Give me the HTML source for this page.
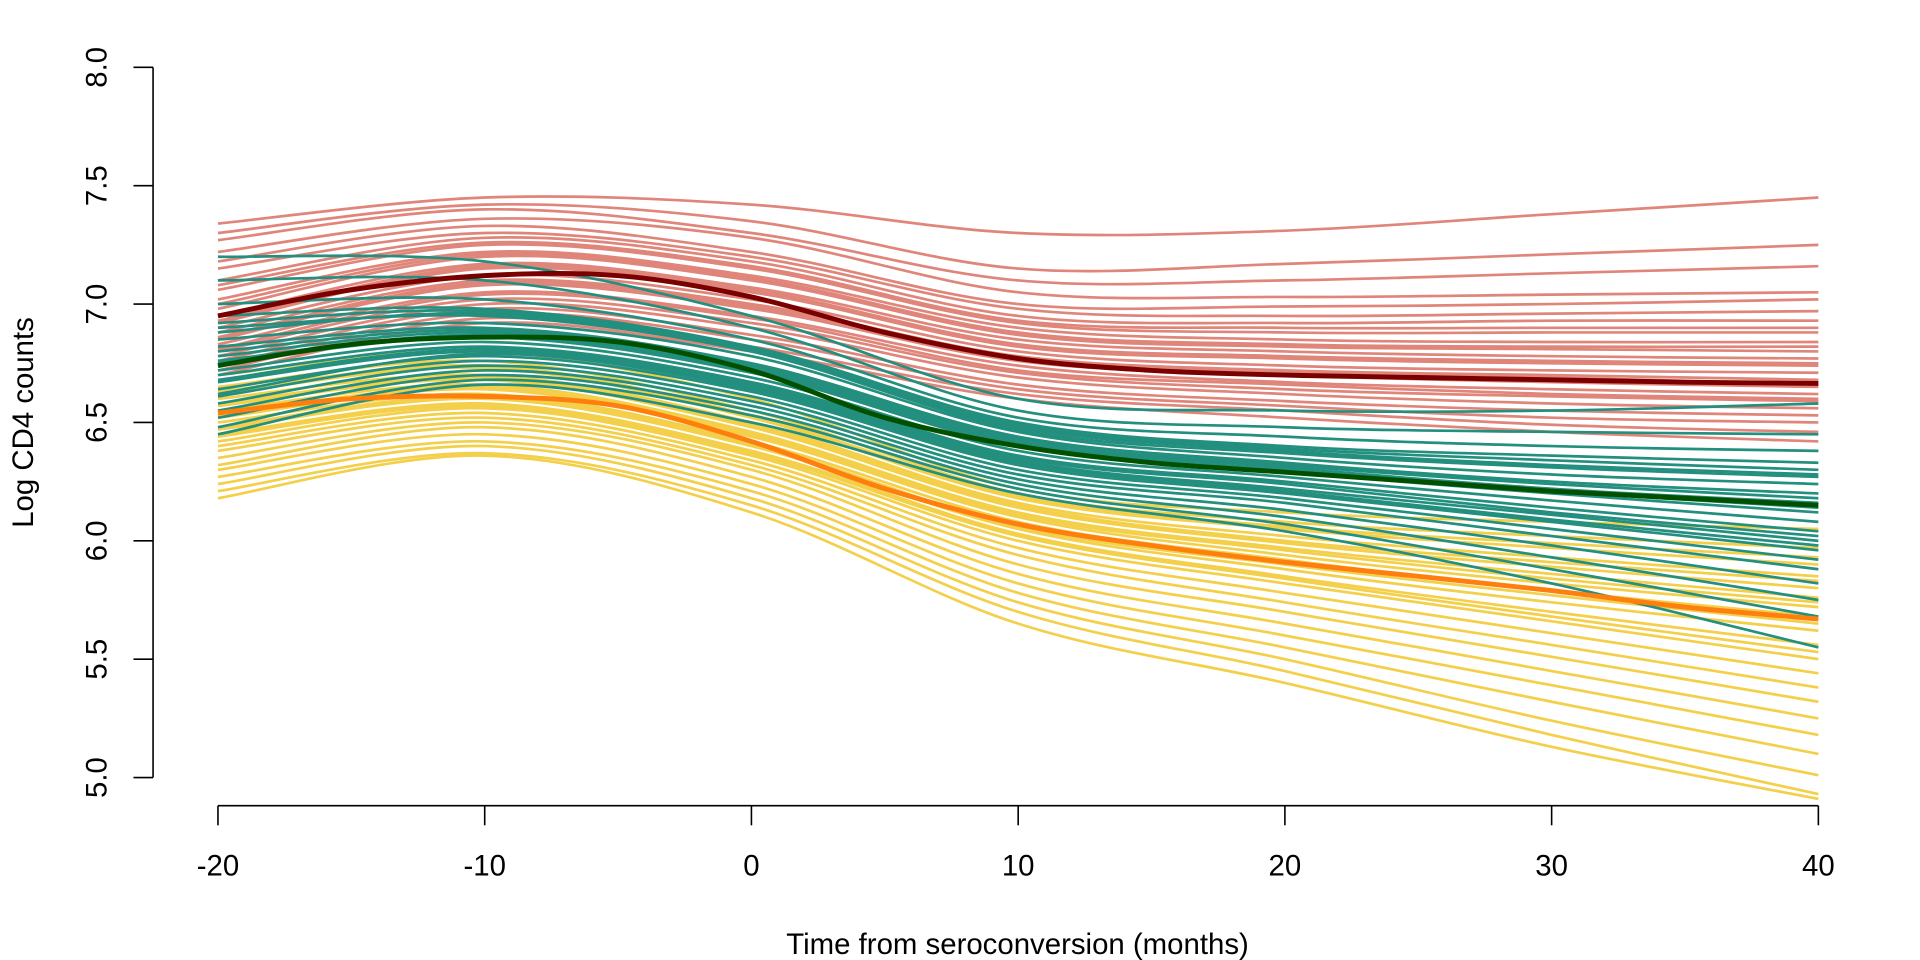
<!DOCTYPE html>
<html><head><meta charset="utf-8"><style>
html,body{margin:0;padding:0;background:#fff;}
svg{display:block;font-family:"Liberation Sans",Arial,sans-serif;}
</style></head><body>
<svg id="chart" width="1920" height="960" viewBox="0 0 1568 784" preserveAspectRatio="none" xmlns="http://www.w3.org/2000/svg">
<g id="curves"></g>
<g id="axes"></g>
<text x="831" y="779" font-size="24" text-anchor="middle">Time from seroconversion (months)</text>
<text transform="translate(27,345) rotate(-90)" font-size="24" text-anchor="middle">Log CD4 counts</text>
</svg>
<script>
const knotX = [-20,-10,0,10,20,30,40];
const meanX = [-20,-15,-10,-5,0,5,10,15,20,25,30,35,40];
const xTicks = [-20,-10,0,10,20,30,40];
const yTicks = [5.0,5.5,6.0,6.5,7.0,7.5,8.0];
const redCurves = [
[7.34,7.45,7.42,7.30,7.31,7.38,7.45],[7.30,7.42,7.35,7.15,7.17,7.21,7.25],[7.27,7.40,7.30,7.10,7.10,7.13,7.16],
[7.22,7.36,7.28,7.05,7.03,7.04,7.05],[7.18,7.33,7.22,7.00,6.99,7.00,7.02],[7.15,7.30,7.20,6.98,6.95,6.96,6.97],
[7.10,7.28,7.18,6.95,6.92,6.93,6.93],[7.06,7.25,7.15,6.92,6.88,6.88,6.88],[7.02,7.22,7.12,6.90,6.85,6.84,6.84],
[6.98,7.20,7.10,6.87,6.82,6.81,6.80],[6.95,7.17,7.07,6.85,6.80,6.78,6.77],[6.92,7.15,7.05,6.82,6.77,6.75,6.74],
[6.90,7.12,7.02,6.80,6.74,6.72,6.71],[6.88,7.10,7.00,6.78,6.72,6.70,6.68],[6.85,7.08,6.98,6.76,6.70,6.67,6.65],
[6.83,7.05,6.95,6.74,6.67,6.64,6.62],[6.80,7.02,6.92,6.71,6.64,6.61,6.59],[6.78,7.00,6.90,6.69,6.62,6.58,6.56],
[6.76,6.98,6.87,6.66,6.59,6.55,6.53],[6.74,6.96,6.85,6.64,6.57,6.52,6.50],[6.72,6.94,6.82,6.62,6.55,6.49,6.46],
[6.70,6.92,6.80,6.60,6.52,6.46,6.42],[7.00,7.21,7.11,6.88,6.83,6.82,6.82],[6.86,7.09,6.99,6.77,6.71,6.69,6.66],
[6.81,7.04,6.94,6.72,6.66,6.62,6.60],[7.08,7.26,7.16,6.93,6.90,6.90,6.90],[6.93,7.16,7.06,6.83,6.78,6.76,6.75]
];
const greenCurves = [
[7.20,7.18,6.95,6.60,6.55,6.55,6.58],[7.10,7.10,6.90,6.55,6.48,6.46,6.45],[7.00,7.02,6.85,6.52,6.44,6.40,6.38],
[6.95,6.98,6.82,6.50,6.40,6.36,6.33],[6.90,6.95,6.80,6.48,6.38,6.32,6.28],[6.85,6.92,6.78,6.46,6.35,6.28,6.24],
[6.82,6.90,6.75,6.44,6.33,6.25,6.20],[6.78,6.88,6.73,6.42,6.31,6.22,6.16],[6.75,6.86,6.71,6.40,6.29,6.20,6.12],
[6.72,6.84,6.69,6.38,6.27,6.17,6.08],[6.70,6.82,6.67,6.36,6.25,6.14,6.04],[6.67,6.80,6.65,6.34,6.22,6.11,6.00],
[6.64,6.78,6.63,6.32,6.20,6.08,5.96],[6.61,6.76,6.61,6.30,6.18,6.05,5.92],[6.58,6.74,6.59,6.28,6.16,6.02,5.88],
[6.55,6.72,6.57,6.26,6.13,5.98,5.82],[6.52,6.70,6.55,6.24,6.10,5.93,5.75],[6.48,6.68,6.53,6.22,6.07,5.88,5.68],
[6.45,6.66,6.50,6.20,6.04,5.82,5.55],[6.88,6.96,6.80,6.47,6.37,6.31,6.27],[6.62,6.79,6.64,6.33,6.21,6.09,5.98],
[6.80,6.89,6.74,6.43,6.32,6.24,6.18],[6.68,6.81,6.66,6.35,6.24,6.12,6.02],[6.76,6.87,6.72,6.41,6.30,6.21,6.14],
[6.92,6.97,6.81,6.49,6.39,6.34,6.30]
];
const yellowCurves = [
[6.70,6.80,6.60,6.22,6.12,6.08,6.05],[6.65,6.76,6.55,6.20,6.08,6.02,5.97],[6.62,6.73,6.52,6.18,6.05,5.97,5.90],
[6.60,6.70,6.50,6.16,6.02,5.93,5.85],[6.57,6.68,6.48,6.14,5.99,5.89,5.80],[6.55,6.66,6.46,6.12,5.97,5.86,5.76],
[6.52,6.64,6.44,6.10,5.94,5.82,5.72],[6.50,6.62,6.42,6.08,5.92,5.79,5.68],[6.47,6.60,6.40,6.05,5.88,5.74,5.62],
[6.45,6.58,6.38,6.03,5.85,5.70,5.56],[6.42,6.56,6.36,6.00,5.82,5.66,5.50],[6.40,6.54,6.34,5.97,5.78,5.61,5.44],
[6.38,6.52,6.32,5.94,5.74,5.56,5.38],[6.35,6.50,6.30,5.90,5.70,5.51,5.32],[6.32,6.48,6.27,5.86,5.65,5.45,5.25],
[6.30,6.45,6.24,5.82,5.60,5.39,5.18],[6.27,6.42,6.21,5.78,5.55,5.32,5.10],[6.24,6.40,6.18,5.74,5.50,5.24,5.01],
[6.21,6.37,6.15,5.70,5.45,5.18,4.93],[6.18,6.36,6.12,5.65,5.40,5.13,4.91],[6.58,6.69,6.49,6.15,6.00,5.91,5.83],
[6.44,6.57,6.37,6.02,5.84,5.68,5.53],[6.63,6.74,6.53,6.19,6.06,5.99,5.93],[6.53,6.65,6.45,6.11,5.96,5.84,5.74],
[6.48,6.61,6.41,6.06,5.90,5.77,5.65]
];
const meanRed = [6.95,7.06,7.12,7.12,7.03,6.88,6.77,6.72,6.70,6.69,6.68,6.67,6.665];
const meanGreen = [6.74,6.83,6.86,6.84,6.72,6.52,6.40,6.33,6.29,6.25,6.21,6.18,6.15];
const meanOrange = [6.54,6.60,6.61,6.57,6.42,6.22,6.07,5.98,5.91,5.85,5.79,5.72,5.67];

const NS="http://www.w3.org/2000/svg";
function sx(v){return 178+(v+20)*(1485-178)/60;}
function sy(v){return 635-(v-5)*(635-55)/3;}
function pathFor(xs,ys){
  const p=xs.map((x,i)=>[sx(x),sy(ys[i])]);
  let d="M"+p[0][0].toFixed(1)+","+p[0][1].toFixed(1);
  for(let i=0;i<p.length-1;i++){
    const p0=p[Math.max(0,i-1)],p1=p[i],p2=p[i+1],p3=p[Math.min(p.length-1,i+2)];
    const c1=[p1[0]+(p2[0]-p0[0])/6,p1[1]+(p2[1]-p0[1])/6];
    const c2=[p2[0]-(p3[0]-p1[0])/6,p2[1]-(p3[1]-p1[1])/6];
    d+="C"+c1[0].toFixed(1)+","+c1[1].toFixed(1)+" "+c2[0].toFixed(1)+","+c2[1].toFixed(1)+" "+p2[0].toFixed(1)+","+p2[1].toFixed(1);
  }
  return d;
}
const g=document.getElementById("curves");
function addLine(xs,ys,color,w,name){
  const el=document.createElementNS(NS,"path");
  el.setAttribute("d",pathFor(xs,ys));
  el.setAttribute("fill","none");
  el.setAttribute("stroke",color);
  el.setAttribute("stroke-width",w);
  
  
  g.appendChild(el);
}
redCurves.forEach(c=>addLine(knotX,c,"#e0857a",2.2,"red-group-curve"));
yellowCurves.forEach(c=>addLine(knotX,c,"#f3cf4a",2.2,"yellow-group-curve"));
greenCurves.forEach(c=>addLine(knotX,c,"#238f7e",2.2,"green-group-curve"));
addLine(meanX,meanRed,"#7a0000",4,"red-group-mean");
addLine(meanX,meanGreen,"#005000",4,"green-group-mean");
addLine(meanX,meanOrange,"#ff7f0e",4,"orange-group-mean");

const ax=document.getElementById("axes");
function mk(tag,attrs,text){const e=document.createElementNS(NS,tag);for(const k in attrs)e.setAttribute(k,attrs[k]);if(text!==undefined)e.textContent=text;ax.appendChild(e);return e;}
let e=mk("line",{x1:sx(-20),x2:sx(40),y1:658,y2:658,stroke:"#000","stroke-width":1.3});


xTicks.forEach(t=>{
  let l=mk("line",{x1:sx(t),x2:sx(t),y1:658,y2:674,stroke:"#000","stroke-width":1.3});
  
  
  let tx=mk("text",{x:sx(t),y:715,"font-size":24,"text-anchor":"middle"},String(t));
  
  
});
e=mk("line",{x1:125,x2:125,y1:sy(5),y2:sy(8),stroke:"#000","stroke-width":1.3});


yTicks.forEach(t=>{
  let l=mk("line",{x1:109,x2:125,y1:sy(t),y2:sy(t),stroke:"#000","stroke-width":1.3});
  
  
  let tx=mk("text",{transform:"translate(87,"+sy(t)+") rotate(-90)","font-size":24,"text-anchor":"middle"},t.toFixed(1));
  
  
});
</script>
</body></html>
